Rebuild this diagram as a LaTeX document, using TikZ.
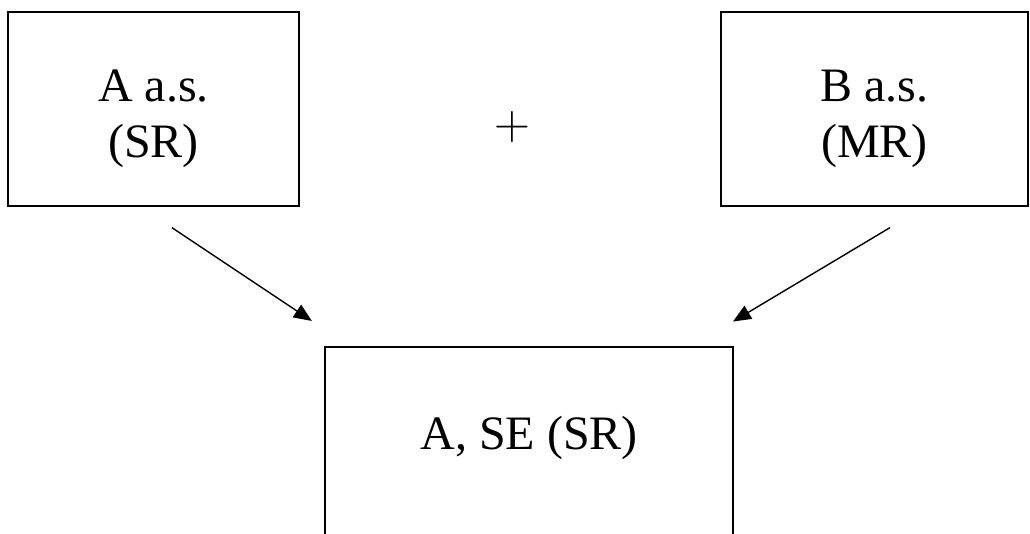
\documentclass[tikz,border=0pt]{standalone}
\usepackage{fontspec}
\setmainfont{Liberation Serif}
\usepackage{tikz}
\usetikzlibrary{arrows.meta, positioning}

\begin{document}
\begin{tikzpicture}[>={Triangle[length=9pt, width=7.5pt]},
    salt/.style={draw=black, line width=1pt, minimum height=3.41cm},
    big/.style={align=center, font=\fontsize{24}{28}\selectfont}]
    \useasboundingbox (0,0) rectangle (18.10, 9.38);

    \node[salt, minimum width=5.11cm] (asA) at (2.70, 7.47) {};
    \node[big] (asAtext) at ([yshift=-0.18cm]asA.center) {A a.s.\\(SR)};
    \node[salt, minimum width=5.39cm] (asB) at (15.37, 7.47) {};
    \node[big] (asBtext) at ([yshift=-0.18cm]asB.center) {B a.s.\\(MR)};
    \node[big] (plus) at (9.01, 7.15) {$+$};

    \node[salt, big, minimum width=7.17cm, text depth=11.5pt] (seA) at (9.30, 1.58) {A, SE (SR)};

    % free ends of the two arrows
    \coordinate (fromA) at (3.02, 5.38);
    \coordinate (toA) at (5.48, 3.74);
    \coordinate (fromB) at (15.64, 5.38);
    \coordinate (toB) at (12.88, 3.73);
    \draw[->, line width=0.7pt] (fromA) -- (toA);
    \draw[->, line width=0.7pt] (fromB) -- (toB);
  \end{tikzpicture}
\end{document}
